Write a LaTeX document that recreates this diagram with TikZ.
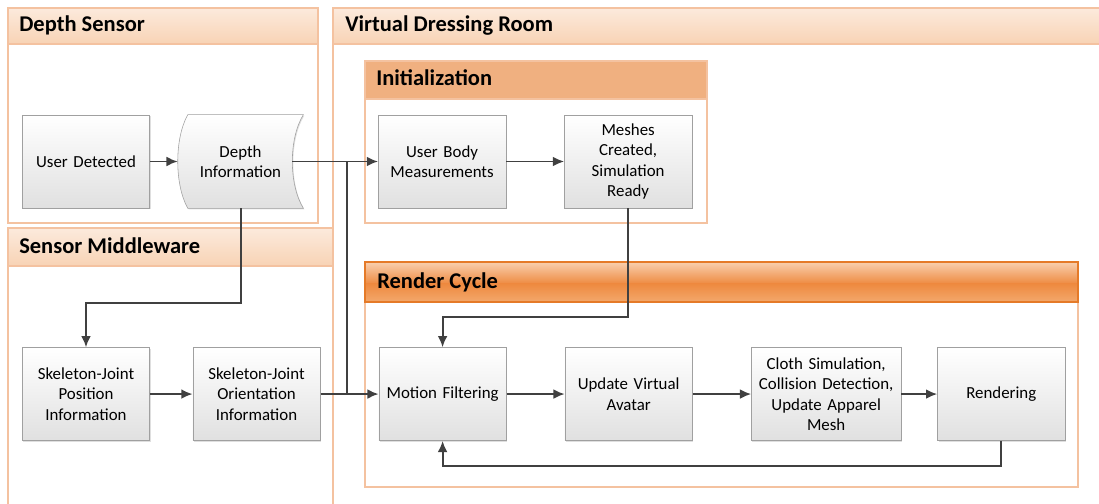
\documentclass[tikz,border=0pt]{standalone}
\usepackage{fontspec}
\setmainfont{Carlito}
\usepackage{tikz}
\usetikzlibrary{shapes.geometric, arrows, arrows.meta, shadows, backgrounds, positioning}
\definecolor{headtop}{HTML}{FCEADC}
\definecolor{headbot}{HTML}{F8D3B5}
\definecolor{laneedge}{HTML}{F4C2A0}
\definecolor{inithead}{HTML}{F0B080}
\definecolor{rclight}{HTML}{F9CFAE}
\definecolor{rcdark}{HTML}{EE8A40}
\definecolor{rcmid}{HTML}{F3A86C}
\definecolor{rcedge}{HTML}{E57A28}
\definecolor{boxline}{HTML}{A0A0A0}
\definecolor{boxbot}{HTML}{E0E0E0}
\definecolor{flow}{HTML}{404040}
\tikzstyle{process} = [rectangle, draw=boxline, top color=white, bottom color=boxbot, minimum width=3.1cm, minimum height=2.325cm, text width=2.95cm, align=center, font=\fontsize{12}{14.6}\selectfont, drop shadow={shadow xshift=0.7pt, shadow yshift=-0.7pt, opacity=0.25}]
\tikzstyle{datatext} = [rectangle, minimum width=3.125cm, minimum height=2.325cm, text width=2.8cm, align=center, font=\fontsize{12}{14.6}\selectfont]
\tikzstyle{arrow} = [line width=1.4pt, draw=flow, -{Latex[length=8pt,width=7pt]}]
\tikzstyle{flowline} = [line width=1.4pt, draw=flow]
\tikzstyle{lanebox} = [draw=laneedge, line width=0.9pt]
\tikzstyle{lanehead} = [draw=laneedge, line width=0.9pt, top color=headtop, bottom color=headbot]
\tikzstyle{lanetitle} = [anchor=base west, inner sep=0pt, font=\fontsize{16}{19}\selectfont\bfseries]

\begin{document}
\begin{tikzpicture}[x=0.025cm, y=-0.025cm, node distance=4.65cm]
        \useasboundingbox (0,0) rectangle (1099,504);

        % Lanes
        \draw [lanebox] (8,8) rectangle (318,223);
        \draw [lanehead] (8,8) rectangle (318,44);
        \node (dstitle) [lanetitle] at (19,32) {Depth Sensor};

        \draw [lanebox] (8,510) -- (8,228) -- (333,228) -- (333,510);
        \draw [lanehead] (8,228) rectangle (333,266);
        \node (smtitle) [lanetitle] at (19,254) {Sensor Middleware};

        \draw [lanebox] (333,510) -- (333,8) -- (1105,8);
        \draw [lanehead] (333,8) rectangle (1105,44);
        \node (vdrtitle) [lanetitle] at (345,32) {Virtual Dressing Room};

        % Initialization
        \draw [lanebox, fill=white, drop shadow={shadow xshift=0.8pt, shadow yshift=-0.8pt, opacity=0.2}] (365,61) rectangle (707,223);
        \draw [draw=laneedge, line width=0.9pt, fill=inithead] (365,61) rectangle (707,99);
        \node (inittitle) [lanetitle] at (376,86) {Initialization};

        % Render Cycle
        \draw [lanebox, fill=white, drop shadow={shadow xshift=0.8pt, shadow yshift=-0.8pt, opacity=0.2}] (365,262) rectangle (1078,487);
        \shade [top color=rclight, bottom color=rcdark] (365,262) rectangle (1078,284);
        \shade [top color=rcdark, bottom color=rcmid] (365,284) rectangle (1078,302);
        \draw [draw=rcedge, line width=0.9pt] (365,262) rectangle (1078,302);
        \node (rctitle) [lanetitle] at (377,289) {Render Cycle};

        % Sensor side
        \node (ud) [process] at (86,161.5) {User Detected};
        \node (depth) [datatext, right of=ud, xshift=-0.7875cm] {Depth\\Information};
        \node (pos) [process, below of=ud, yshift=-1.1625cm] {Skeleton-Joint\\Position\\Information};
        \node (ori) [process, right of=pos, xshift=-0.3875cm] {Skeleton-Joint\\Orientation\\Information};

        % Dressing room
        \node (ubm) [process, right of=depth, xshift=0.3875cm] {User Body\\Measurements};
        \node (mesh) [process, right of=ubm] {Meshes\\Created,\\Simulation\\Ready};
        \node (mf) [process, right of=ori] {Motion Filtering};
        \node (ava) [process, right of=mf] {Update Virtual\\Avatar};
        \node (cloth) [process, right of=ava, xshift=0.2875cm, minimum width=3.675cm, text width=3.5cm] {Cloth Simulation,\\Collision Detection,\\Update Apparel\\Mesh};
        \node (rend) [process, right of=cloth, xshift=-0.275cm] {Rendering};

        % Stored data shape behind the text
        \begin{pgfonlayer}{background}
        \draw [draw=boxline, top color=white, bottom color=boxbot, drop shadow={shadow xshift=0.7pt, shadow yshift=-0.7pt, opacity=0.25}]
            ([xshift=0.25cm]depth.north west) -- (depth.north east)
            .. controls +(-0.367cm,-0.6cm) and +(-0.367cm,0.6cm) .. (depth.south east)
            -- ([xshift=0.25cm]depth.south west)
            .. controls +(-0.333cm,0.6cm) and +(-0.333cm,-0.6cm) .. ([xshift=0.25cm]depth.north west) -- cycle;
        \end{pgfonlayer}

        % Arrows
        \coordinate (depthout) at ([xshift=-0.275cm]depth.east);
        \coordinate (jtop) at ([xshift=-0.775cm]ubm.west);
        \coordinate (jbot) at (jtop |- mf.west);

        \draw [arrow] (ud) -- (depth);
        \draw [arrow] (depthout) -- (ubm);
        \draw [flowline] (jtop) -- (jbot);
        \draw [arrow] (depth.south) -- ++(0,95) -| (pos.north);
        \draw [arrow] (pos) -- (ori);
        \draw [arrow] (ori) -- (mf);

        \draw [arrow] (ubm) -- (mesh);
        \draw [arrow] (mesh.south) -- ++(0,109) -| (mf.north);
        \draw [arrow] (mf) -- (ava);
        \draw [arrow] (ava) -- (cloth);
        \draw [arrow] (cloth) -- (rend);
        \draw [arrow] (rend.south) -- ++(0,25) -| (mf.south);

    \end{tikzpicture}
\end{document}
